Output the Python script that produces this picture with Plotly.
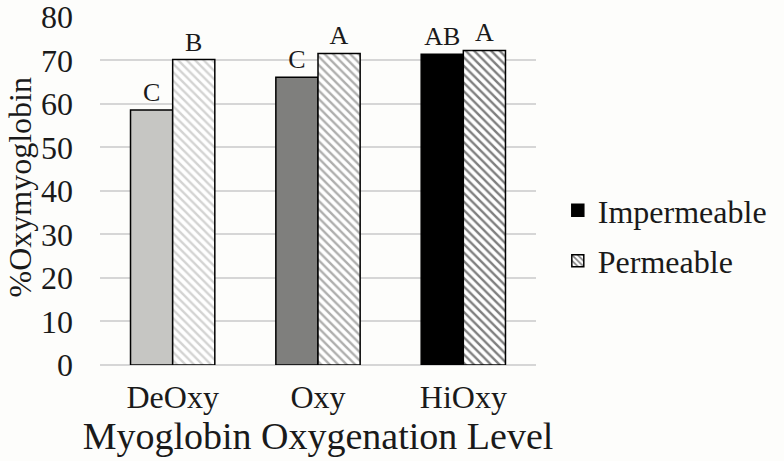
import plotly.graph_objects as go

levels = ["DeOxy", "Oxy", "HiOxy"]
impermeable = [58.6, 66.1, 71.4]
permeable = [70.2, 71.6, 72.3]
imp_letters = ["C", "C", "AB"]
perm_letters = ["B", "A", "A"]

imp_colors = ["#c6c6c3", "#7f7f7d", "#000000"]
perm_hatch = ["#a8a8a6", "#5e5e5c", "#000000"]

serif = "Liberation Serif, Times New Roman, serif"
ink = "#1a1a1a"
font = dict(family=serif, size=32, color=ink)
label_font = dict(family=serif, size=26, color=ink)
edge = dict(color="#000000", width=1.5)

fig = go.Figure()
fig.add_trace(go.Bar(
    x=levels, y=impermeable, name="Impermeable", showlegend=False,
    text=imp_letters, textposition="outside", cliponaxis=False,
    textfont=label_font,
    marker=dict(color=imp_colors, line=edge),
))
fig.add_trace(go.Bar(
    x=levels, y=permeable, name="Permeable", showlegend=False,
    text=perm_letters, textposition="outside", cliponaxis=False,
    textfont=label_font,
    marker=dict(color="#ffffff", line=edge,
                pattern=dict(shape="\\", fgcolor=perm_hatch, bgcolor="#ffffff",
                             size=6, solidity=0.4)),
))

# legend-only entries (black swatches) on a hidden overlay axis
fig.add_trace(go.Bar(
    x=[levels[0]], y=[0], name="Impermeable", xaxis="x2", yaxis="y2",
    legendgroup="a", marker=dict(color="#000000", line=edge),
))
fig.add_trace(go.Bar(
    x=[levels[0]], y=[0], name="Permeable", xaxis="x2", yaxis="y2",
    legendgroup="b",
    marker=dict(color="#ffffff", line=edge,
                pattern=dict(shape="\\", fgcolor="#000000", bgcolor="#ffffff",
                             size=5, solidity=0.4)),
))

fig.add_annotation(
    text="%Oxymyoglobin", textangle=-90, font=font, showarrow=False,
    xref="paper", yref="paper", x=0, y=0.5, xanchor="center", yanchor="middle",
    xshift=-81, yshift=3,
)

fig.update_layout(
    width=784, height=461,
    paper_bgcolor="#fdfdfb", plot_bgcolor="#fdfdfb",
    font=font,
    barmode="group", bargap=0.42, bargroupgap=0,
    margin=dict(l=100, r=238, t=16, b=96),
    legend=dict(x=1.05, y=0.37, yanchor="middle", font=dict(size=32),
                traceorder="grouped", tracegroupgap=6,
                bgcolor="rgba(0,0,0,0)"),
    xaxis=dict(title=dict(text="Myoglobin Oxygenation Level", standoff=2),
               showline=False, ticks="", showgrid=False, automargin=False,
               ticklabelstandoff=10),
    yaxis=dict(range=[0, 80.2], tickvals=[0, 10, 20, 30, 40, 50, 60, 70, 80],
               showgrid=True, gridcolor="#d6d6d6",
               gridwidth=1.5, zeroline=True, zerolinecolor="#d6d6d6",
               zerolinewidth=1.5, showline=False, ticks="", automargin=False,
               ticklabelstandoff=26, ticklabeloverflow="allow"),
    xaxis2=dict(overlaying="x", visible=False),
    yaxis2=dict(overlaying="y", visible=False, range=[1, 2]),
)

fig.write_html("out.html", config={"displayModeBar": False},
               post_script="document.body.style.margin='0';")
